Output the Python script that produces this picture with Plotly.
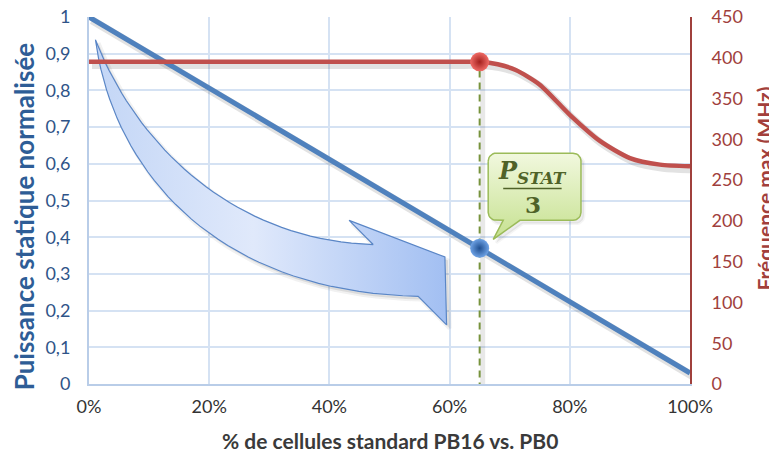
import numpy as np
import plotly.graph_objects as go

# ---------------- data ----------------
pct_line = [0, 100]
puissance = [1.0, 0.03]

freq_pct = [0, 30, 55, 62, 65, 68, 71, 75, 80, 85, 90, 95, 100]
freq_mhz = [395, 395, 395, 395, 395, 392, 385, 367, 330, 298, 277, 269, 267]

marker_pct = [65]
marker_puissance = [0.37]
marker_freq = [395]

x_ticks = [0, 20, 40, 60, 80, 100]
x_ticklabels = ["0%", "20%", "40%", "60%", "80%", "100%"]

FREQ_MAX = 450

# -------------- decoration geometry (data coords) --------------
def bezier(p0, c1, c2, p3, n=40):
    t = np.linspace(0, 1, n)[:, None]
    p0, c1, c2, p3 = map(np.array, (p0, c1, c2, p3))
    return ((1 - t) ** 3) * p0 + 3 * t * (1 - t) ** 2 * c1 + 3 * t ** 2 * (1 - t) * c2 + t ** 3 * p3

arrow_tail = (1.07, 0.938)
inner = bezier(arrow_tail, (7.5, 0.664), (23.43, 0.392), (47.28, 0.380))
head = np.array([(43.28, 0.446), (59.22, 0.346), (59.50, 0.161), (54.77, 0.239)])
outer = bezier(arrow_tail, (4.0, 0.582), (21.0, 0.25), (54.77, 0.239))[::-1]
arrow = np.vstack([inner, head, outer[1:]])

# callout box
bx0, bx1, by0, by1 = 66.42, 81.86, 0.446, 0.629
rx, ry = 1.33, 0.0218
def arc(cx, cy, a0, a1, n=8):
    a = np.linspace(a0, a1, n)
    return np.column_stack([cx + rx * np.cos(a), cy + ry * np.sin(a)])
call = np.vstack([
    arc(bx0 + rx, by1 - ry, np.pi, np.pi / 2),
    arc(bx1 - rx, by1 - ry, np.pi / 2, 0),
    arc(bx1 - rx, by0 + ry, 0, -np.pi / 2),
    [(71.70, by0), (67.26, 0.394), (68.92, by0)],
    arc(bx0 + rx, by0 + ry, -np.pi / 2, -np.pi),
    [(bx0, by1 - ry)],
])

FONT = "Lato"
BLUE = "#4f81bd"
RED = "#c0504d"
SHADOW = "rgba(60,60,60,0.15)"

# shadow offset: ~3 px right / down expressed as axis range shifts
dx = 0.5          # % (≈3 px)
dy = 0.009        # left-axis units (≈3 px)

dash_y = [-0.015, marker_freq[0] / FREQ_MAX]

fig = go.Figure()

# ---- shadows on the (hidden) base axes x / y, drawn beneath everything ----
fig.add_trace(go.Scatter(x=pct_line, y=puissance, mode="lines",
                         line=dict(color=SHADOW, width=8), hoverinfo="skip"))
fig.add_trace(go.Scatter(x=freq_pct, y=np.array(freq_mhz) / FREQ_MAX, mode="lines",
                         line=dict(color=SHADOW, width=7.5, shape="spline", smoothing=0.7),
                         hoverinfo="skip"))
fig.add_trace(go.Scatter(x=arrow[:, 0], y=arrow[:, 1], mode="lines", fill="toself",
                         fillcolor="rgba(80,80,80,0.13)",
                         line=dict(color="rgba(80,80,80,0.08)", width=4), hoverinfo="skip"))
fig.add_trace(go.Scatter(x=call[:, 0], y=call[:, 1], mode="lines", fill="toself",
                         fillcolor="rgba(80,80,80,0.10)",
                         line=dict(color="rgba(80,80,80,0.06)", width=3), hoverinfo="skip"))
fig.add_trace(go.Scatter(x=[marker_pct[0], marker_pct[0]], y=dash_y, mode="lines",
                         line=dict(color="rgba(80,80,80,0.13)", width=5), hoverinfo="skip"))

# ---- real marks on the visible overlay axes ----
fig.add_trace(go.Scatter(x=pct_line, y=puissance, mode="lines", xaxis="x2", yaxis="y2",
                         line=dict(color=BLUE, width=5), hoverinfo="skip"))
fig.add_trace(go.Scatter(x=[marker_pct[0], marker_pct[0]], y=dash_y, mode="lines",
                         xaxis="x2", yaxis="y2",
                         line=dict(color="#77933c", width=2, dash="7px,5px"), hoverinfo="skip"))
fig.add_trace(go.Scatter(x=arrow[:, 0], y=arrow[:, 1], mode="lines", fill="toself",
                         xaxis="x2", yaxis="y2",
                         line=dict(color="#5a86c6", width=1.2),
                         fillgradient=dict(type="horizontal",
                                           colorscale=[[0, "#c3d6f6"], [0.45, "#e0e9fb"], [1, "#a2bff2"]]),
                         hoverinfo="skip"))
fig.add_trace(go.Scatter(x=call[:, 0], y=call[:, 1], mode="lines", fill="toself",
                         xaxis="x2", yaxis="y2",
                         line=dict(color="#9bbb59", width=1.5),
                         fillgradient=dict(type="vertical",
                                           colorscale=[[0, "#c6e190"], [1, "#f1f8de"]]),
                         hoverinfo="skip"))
fig.add_trace(go.Scatter(x=marker_pct, y=marker_puissance, mode="markers",
                         xaxis="x2", yaxis="y2",
                         marker=dict(size=19, color="#6fa3e6",
                                     gradient=dict(type="radial", color="#1f4f91"),
                                     line=dict(width=0)), hoverinfo="skip"))
fig.add_trace(go.Scatter(x=freq_pct, y=freq_mhz, mode="lines", xaxis="x2", yaxis="y3",
                         line=dict(color=RED, width=4.5, shape="spline", smoothing=0.7),
                         hoverinfo="skip"))
fig.add_trace(go.Scatter(x=marker_pct, y=marker_freq, mode="markers", xaxis="x2", yaxis="y3",
                         marker=dict(size=19, color="#ef6b66",
                                     gradient=dict(type="radial", color="#a3201d"),
                                     line=dict(width=0)), hoverinfo="skip"))

# fraction bar + callout text
fig.add_shape(type="line", xref="x2", yref="y2", x0=68.92, x1=78.64, y0=0.5325, y1=0.5325,
              line=dict(color="#4f6228", width=1.5))
fig.add_annotation(x=73.8, y=0.578, xref="x2", yref="y2", showarrow=False,
                   text="<b><i>P<sub>STAT</sub></i></b>",
                   font=dict(family="DejaVu Serif", size=24, color="#4f6228"))
fig.add_annotation(x=73.9, y=0.488, xref="x2", yref="y2", showarrow=False,
                   text="<b>3</b>",
                   font=dict(family="DejaVu Serif", size=23, color="#4f6228"))

# axis titles
fig.add_annotation(x=-0.108, y=0.457, xref="paper", yref="paper", showarrow=False,
                   xanchor="center", yanchor="middle",
                   textangle=-90, text="<b>Puissance statique normalisée</b>",
                   font=dict(family=FONT, size=26, color="#2e5d96"))
fig.add_annotation(x=1.1235, y=0.533, xref="paper", yref="paper", showarrow=False,
                   xanchor="center", yanchor="middle",
                   textangle=-90, text="<b>Fréquence max (MHz)</b>",
                   font=dict(family=FONT, size=21, color="#a33f3b"))
fig.add_annotation(x=0.5008, y=-0.155, xref="paper", yref="paper", showarrow=False,
                   xanchor="center", yanchor="middle",
                   text="<b>% de cellules standard PB16 vs. PB0</b>",
                   font=dict(family=FONT, size=21, color="#3a3a3a"))

hidden = dict(visible=False, showgrid=False, zeroline=False, fixedrange=True)

fig.update_layout(
    width=769, height=448,
    margin=dict(l=81, r=87, t=9, b=72),
    paper_bgcolor="white", plot_bgcolor="white",
    showlegend=False,
    separators=", ",
    font=dict(family=FONT),
    xaxis=dict(range=[-dx, 100 - dx], **hidden),
    yaxis=dict(range=[dy, 1 + dy], **hidden),
    xaxis2=dict(range=[0, 100], overlaying="x", side="bottom",
                tickvals=x_ticks, ticktext=x_ticklabels,
                showgrid=True, gridcolor="#d5e2f3", gridwidth=2,
                showline=True, linecolor="#b9cde8", linewidth=2, zeroline=False,
                ticks="", ticklabelstandoff=5, automargin=False, ticklabeloverflow="allow",
                tickfont=dict(family=FONT, size=18, color="#333333"),
                fixedrange=True),
    yaxis2=dict(range=[0, 1], dtick=0.1, overlaying="y", side="left",
                showgrid=True, gridcolor="#d5e2f3", gridwidth=2,
                showline=True, linecolor="#b9cde8", linewidth=2, zeroline=False,
                ticks="", ticklabelstandoff=13, automargin=False, ticklabeloverflow="allow",
                tickfont=dict(family=FONT, size=18, color="#2f5488")),
    yaxis3=dict(range=[0, FREQ_MAX], dtick=50, overlaying="y", side="right",
                showgrid=False, showline=True, linecolor="#a0403c", linewidth=2,
                zeroline=False, ticks="", ticklabelstandoff=16, automargin=False,
                ticklabeloverflow="allow",
                tickfont=dict(family=FONT, size=18, color="#a0403c")),
)

fig.write_html("out.html")
